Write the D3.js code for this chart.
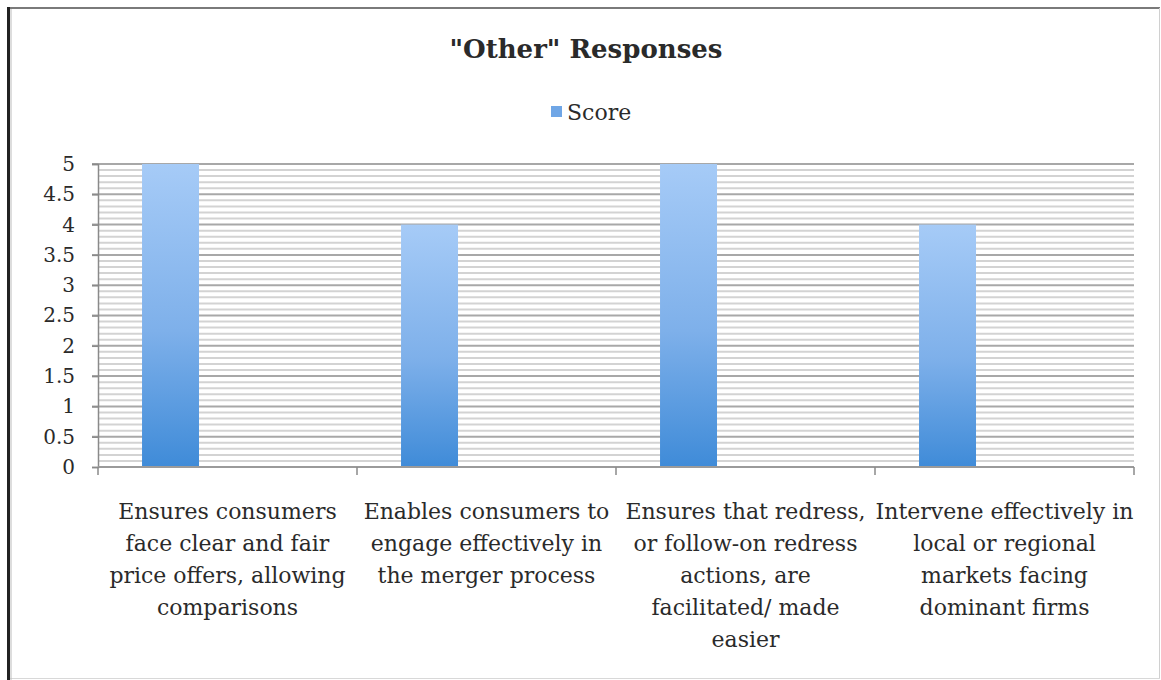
<!DOCTYPE html>
<html>
<head>
<meta charset="utf-8">
<script src="https://cdn.jsdelivr.net/npm/d3@7"></script>
<style>
  html, body { margin: 0; padding: 0; background: #fff; }
  svg { display: block; }
  text { font-family: "DejaVu Serif", "Liberation Serif", serif; fill: #2a2a2a; }
</style>
</head>
<body>
<svg id="chart" width="1161" height="680"></svg>
<script>
// Category labels, already broken into the lines shown under each column
const categories = [
  ["Ensures consumers", "face clear and fair", "price offers, allowing", "comparisons"],
  ["Enables consumers to", "engage effectively in", "the merger process"],
  ["Ensures that redress,", "or follow-on redress", "actions, are", "facilitated/ made", "easier"],
  ["Intervene effectively in", "local or regional", "markets facing", "dominant firms"]
];
const scores = [5, 4, 5, 4];
const seriesName = "Score";
const yTicks = [0, 0.5, 1, 1.5, 2, 2.5, 3, 3.5, 4, 4.5, 5];
const yTickLabels = ["0", "0.5", "1", "1.5", "2", "2.5", "3", "3.5", "4", "4.5", "5"];
const chartTitle = "\"Other\" Responses";

const W = 1161, H = 680;
const plot = { left: 98, right: 1134, top: 164, bottom: 467 };

const svg = d3.select("#chart");

// Frame around the chart
svg.append("rect").attr("x", 0).attr("y", 0).attr("width", W).attr("height", H).attr("fill", "#fff");
svg.append("line").attr("x1", 7).attr("x2", 1160).attr("y1", 8).attr("y2", 8)
  .attr("stroke", "#7a7a7a").attr("stroke-width", 2);
svg.append("line").attr("x1", 1159.5).attr("x2", 1159.5).attr("y1", 8).attr("y2", 679)
  .attr("stroke", "#d0d0d0").attr("stroke-width", 1);
svg.append("line").attr("x1", 7).attr("x2", 1160).attr("y1", 678.5).attr("y2", 678.5)
  .attr("stroke", "#d8d8d8").attr("stroke-width", 1);
svg.append("line").attr("x1", 8.5).attr("x2", 8.5).attr("y1", 7).attr("y2", 680)
  .attr("stroke", "#222").attr("stroke-width", 3);
svg.append("line").attr("x1", 11).attr("x2", 11).attr("y1", 9).attr("y2", 680)
  .attr("stroke", "#bbb").attr("stroke-width", 1);

// Scales
const x = d3.scaleBand()
  .domain(d3.range(categories.length))
  .range([plot.left, plot.right])
  .padding(0);
const y = d3.scaleLinear().domain([0, 5]).range([plot.bottom, plot.top]);

// Gradient for the columns
const defs = svg.append("defs");
const grad = defs.append("linearGradient").attr("id", "barFill")
  .attr("x1", 0).attr("y1", 0).attr("x2", 0).attr("y2", 1);
grad.append("stop").attr("offset", "0%").attr("stop-color", "#a6cbf7");
grad.append("stop").attr("offset", "55%").attr("stop-color", "#7eb0ea");
grad.append("stop").attr("offset", "100%").attr("stop-color", "#3f8bd8");

// Minor gridlines every 0.1
const minor = d3.range(0, 51).map(i => i / 10).filter(v => Math.abs(v * 2 - Math.round(v * 2)) > 1e-6);
svg.append("g").selectAll("line").data(minor).join("line")
  .attr("x1", plot.left).attr("x2", plot.right)
  .attr("y1", d => y(d)).attr("y2", d => y(d))
  .attr("stroke", "#d3d3d3").attr("stroke-width", 2);

// Major gridlines every 0.5
svg.append("g").selectAll("line").data(yTicks.filter(v => v > 0)).join("line")
  .attr("x1", plot.left - 6).attr("x2", plot.right)
  .attr("y1", d => y(d)).attr("y2", d => y(d))
  .attr("stroke", "#a8a8a8").attr("stroke-width", 2);

// Columns
const barOffset = 0.17, barWidth = 0.22;
svg.append("g").selectAll("rect").data(scores).join("rect")
  .attr("x", (d, i) => x(i) + x.bandwidth() * barOffset)
  .attr("width", x.bandwidth() * barWidth)
  .attr("y", d => y(d))
  .attr("height", d => y(0) - y(d))
  .attr("fill", "url(#barFill)");

// Y axis
const yAxis = d3.axisLeft(y)
  .tickValues(yTicks)
  .tickFormat((d, i) => yTickLabels[i])
  .tickSize(6)
  .tickPadding(17);
const gy = svg.append("g").attr("transform", `translate(${plot.left},0)`).call(yAxis);
gy.select(".domain").attr("stroke", "#8a8a8a").attr("stroke-width", 1.5);
gy.selectAll(".tick line").attr("stroke", "#8a8a8a").attr("stroke-width", 1.5);
gy.selectAll(".tick text")
  .attr("font-family", "'DejaVu Serif', serif")
  .attr("font-size", 20).attr("fill", "#2a2a2a");

// X axis baseline with category boundary ticks
svg.append("line").attr("x1", plot.left).attr("x2", plot.right)
  .attr("y1", y(0)).attr("y2", y(0))
  .attr("stroke", "#9a9a9a").attr("stroke-width", 2);
const bounds = x.domain().map(i => x(i)).concat([plot.right]);
svg.append("g").selectAll("line").data(bounds).join("line")
  .attr("x1", d => d).attr("x2", d => d)
  .attr("y1", y(0)).attr("y2", y(0) + 8)
  .attr("stroke", "#8a8a8a").attr("stroke-width", 1.5);

// Category labels
const lineH = 32;
const labels = svg.append("g").selectAll("text").data(categories).join("text")
  .attr("text-anchor", "middle")
  .attr("font-size", 22)
  .attr("fill", "#2a2a2a");
labels.each(function (lines, i) {
  d3.select(this).selectAll("tspan").data(lines).join("tspan")
    .attr("x", x(i) + x.bandwidth() / 2)
    .attr("y", (d, k) => 519 + k * lineH)
    .text(d => d);
});

// Title
svg.append("text")
  .attr("x", 586).attr("y", 58)
  .attr("text-anchor", "middle")
  .attr("font-size", 26).attr("font-weight", "bold")
  .attr("fill", "#111")
  .text(chartTitle);

// Legend
const legend = svg.append("g");
legend.append("rect").attr("x", 551).attr("y", 106).attr("width", 11).attr("height", 11)
  .attr("fill", "#6fa6e6");
legend.append("text").attr("x", 567).attr("y", 120)
  .attr("font-size", 22).attr("fill", "#2a2a2a")
  .text(seriesName);
</script>
</body>
</html>
